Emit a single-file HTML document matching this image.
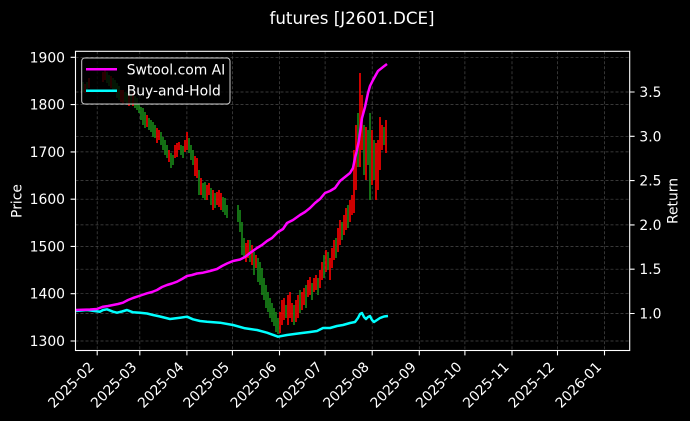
<!DOCTYPE html>
<html><head><meta charset="utf-8"><style>
html,body{margin:0;padding:0;background:#000;}
svg{display:block;}
text{font-family:"DejaVu Sans","Liberation Sans",sans-serif;fill:#fff;}
</style></head><body>
<svg width="690" height="421" viewBox="0 0 690 421" xmlns="http://www.w3.org/2000/svg">
<rect x="0" y="0" width="690" height="421" fill="#000"/>
<text x="352" y="24" font-size="16.7" text-anchor="middle">futures [J2601.DCE]</text>

<!-- grid -->
<g stroke="#4a4a4a" stroke-width="0.7" stroke-dasharray="3,2" fill="none">
<path d="M75.5 57.3H629.7M75.5 104.6H629.7M75.5 151.9H629.7M75.5 199.2H629.7M75.5 246.4H629.7M75.5 293.7H629.7M75.5 341H629.7"/>
<path d="M75.5 92H629.7M75.5 136.3H629.7M75.5 180.6H629.7M75.5 224.9H629.7M75.5 269.2H629.7M75.5 313.5H629.7"/>
<path d="M97.2 51.3V350.5M139.8 51.3V350.5M186.9 51.3V350.5M232.4 51.3V350.5M279.5 51.3V350.5M325.1 51.3V350.5M372.2 51.3V350.5M419.3 51.3V350.5M464.9 51.3V350.5M512 51.3V350.5M557.5 51.3V350.5M604.5 51.3V350.5"/>
</g>

<!-- candles red -->
<path fill="none" stroke="#ff0000" stroke-width="1.6" d="M85 84V93M89 78V88M103 72V82M105 70V80M111 76V88M121 90V102M123 90V104M129 94V106M133 93V106M147 115V127M157 128V143M159 130V140M169 150V162M175 145V158M177 143V157M179 142V150M185 140V152M187 132V150M195 156V176M197 158V178M201 178V195M207 185V200M209 183V195M213 190V210M217 192V205M219 190V207M221 193V210M246 243V262M248 240V258M252 245V265M256 255V268M280 312V333M282 300V325M284 298V320M288 295V325M290 292V318M292 303V322M296 300V322M298 295V318M302 292V310M304 288V305M308 280V297M310 277V295M314 278V292M316 275V290M320 270V288M322 262V280M326 250V272M330 258V280M332 248V268M334 240V260M338 228V252M340 220V245M344 215V235M346 208V230M350 200V222M352 195V215M354 150V213M356 125V190M360 73V167M362 95V150M366 127V180M372 130V185M376 143V200M378 140V190M380 117V170M382 125V150M386 120V153"/>
<!-- candles green -->
<path fill="none" stroke="#1a8a1a" stroke-width="1.6" d="M83 82V92M87 82V92M107 72V83M109 75V86M113 78V90M115 80V92M117 83V98M119 86V100M125 92V102M127 93V104M131 95V105M135 96V108M137 98V110M139 103V113M141 107V120M143 108V125M145 112V128M149 118V130M151 120V132M153 122V137M155 125V138M161 132V145M163 137V150M165 140V155M167 145V158M171 153V168M173 155V165M181 145V155M183 146V158M189 138V153M191 145V160M193 150V165M199 170V195M203 183V198M205 182V200M211 188V205M215 193V208M223 197V212M225 198V215M227 205V218M238 205V222M240 210V232M242 222V255M244 238V258M250 240V262M254 252V275M258 258V282M260 262V285M262 268V295M264 278V300M266 285V308M268 292V312M270 298V318M272 303V322M274 308V326M276 312V332M278 318V334M286 305V318M294 305V325M300 290V313M306 285V308M312 283V300M318 278V295M324 255V278M328 252V270M336 238V258M342 222V240M348 205V228M358 113V167M364 125V175M368 130V165M370 113V200M374 140V180M384 127V145"/>

<!-- strategy lines -->
<polyline fill="none" stroke="#00ffff" stroke-width="2.5" stroke-linejoin="round" points="75.5,311 87,310 100,311.7 103,310 107,309.3 113,311.7 117,312.7 122,311.5 127,310 133,312.3 140,312.7 147,313.5 153,315 160,316.5 170,319 180,317.7 187,316.7 193,319.3 200,321 207,321.7 220,322.7 233,325 245,328.3 257,330 267,332.7 278,336.7 287,335 300,333.3 310,332 317,331 323,328 330,328 337,326 343,325 350,323 355,322 358,318 360,314 362,313 364,317 366,319 368,317 370,316 372,320 374,322 377,320 380,318 384,316.5 388,316"/>
<polyline fill="none" stroke="#ff00ff" stroke-width="2.5" stroke-linejoin="round" points="75.5,310 90,309.5 97,309 103,306.7 108,306 113,305 118,304 123,302.7 128,300 133,298 137,296.7 142,295 147,293.3 152,292 157,290 162,287 167,285 172,283.5 177,281.7 182,279 187,276 192,275 197,273.5 203,272.7 210,271 217,269 222,266 227,263.5 233,261 240,259.5 245,257 250,253 257,248 262,245 267,241 272,238 278,232 283,229 287,223 293,220 300,215 305,212 310,208 315,203 320,199 325,193 330,191 335,188 340,181 345,177 350,173 353,168 355,158 357,150 359,140 362,118 365,107 368,93 370,86 373,80 378,71 383,67 387,64"/>

<!-- spines -->
<rect x="75.5" y="51.3" width="554.2" height="299.2" fill="none" stroke="#fff" stroke-width="1.1"/>

<!-- ticks -->
<g stroke="#fff" stroke-width="1.1">
<path d="M70.6 57.3H75.5M70.6 104.6H75.5M70.6 151.9H75.5M70.6 199.2H75.5M70.6 246.4H75.5M70.6 293.7H75.5M70.6 341H75.5"/>
<path d="M629.7 92H634.6M629.7 136.3H634.6M629.7 180.6H634.6M629.7 224.9H634.6M629.7 269.2H634.6M629.7 313.5H634.6"/>
<path d="M97.2 350.5V355.4M139.8 350.5V355.4M186.9 350.5V355.4M232.4 350.5V355.4M279.5 350.5V355.4M325.1 350.5V355.4M372.2 350.5V355.4M419.3 350.5V355.4M464.9 350.5V355.4M512 350.5V355.4M557.5 350.5V355.4M604.5 350.5V355.4"/>
</g>
<g font-size="13.9" text-anchor="end">
<text x="65" y="62.3">1900</text>
<text x="65" y="109.6">1800</text>
<text x="65" y="156.9">1700</text>
<text x="65" y="204.2">1600</text>
<text x="65" y="251.4">1500</text>
<text x="65" y="298.7">1400</text>
<text x="65" y="346">1300</text>
</g>
<g font-size="13.9" text-anchor="start">
<text x="639.4" y="97">3.5</text>
<text x="639.4" y="141.3">3.0</text>
<text x="639.4" y="185.6">2.5</text>
<text x="639.4" y="229.9">2.0</text>
<text x="639.4" y="274.2">1.5</text>
<text x="639.4" y="318.5">1.0</text>
</g>
<text font-size="13.9" text-anchor="middle" transform="translate(21.5,201) rotate(-90)">Price</text>
<text font-size="13.9" text-anchor="middle" transform="translate(677.5,201) rotate(-90)">Return</text>

<!-- x tick labels -->
<g font-size="13.9" text-anchor="end">
<text transform="translate(94.9,367.7) rotate(-45)">2025-02</text>
<text transform="translate(137.5,367.7) rotate(-45)">2025-03</text>
<text transform="translate(184.6,367.7) rotate(-45)">2025-04</text>
<text transform="translate(230.1,367.7) rotate(-45)">2025-05</text>
<text transform="translate(277.2,367.7) rotate(-45)">2025-06</text>
<text transform="translate(322.8,367.7) rotate(-45)">2025-07</text>
<text transform="translate(369.9,367.7) rotate(-45)">2025-08</text>
<text transform="translate(417,367.7) rotate(-45)">2025-09</text>
<text transform="translate(462.6,367.7) rotate(-45)">2025-10</text>
<text transform="translate(509.7,367.7) rotate(-45)">2025-11</text>
<text transform="translate(555.2,367.7) rotate(-45)">2025-12</text>
<text transform="translate(602.2,367.7) rotate(-45)">2026-01</text>
</g>

<!-- legend -->
<rect x="81.7" y="58" width="148.3" height="46" rx="3" ry="3" fill="#000" fill-opacity="0.8" stroke="#cccccc" stroke-width="1"/>
<line x1="86" y1="69.3" x2="117" y2="69.3" stroke="#ff00ff" stroke-width="2.5"/>
<line x1="86" y1="90.7" x2="117" y2="90.7" stroke="#00ffff" stroke-width="2.5"/>
<text x="126.7" y="74.3" font-size="13.9">Swtool.com AI</text>
<text x="126.7" y="95.7" font-size="13.9">Buy-and-Hold</text>
</svg>
</body></html>
